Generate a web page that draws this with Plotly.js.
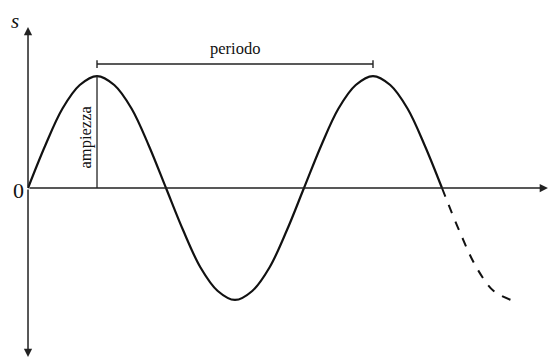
<!DOCTYPE html>
<html>
<head>
<meta charset="utf-8">
<script src="https://cdn.plot.ly/plotly-3.0.1.min.js"></script>
<style>
  html, body { margin: 0; padding: 0; background: #fff; }
  #plotArea { width: 553px; height: 361px; }
</style>
</head>
<body>
<div id="plotArea"></div>
<script>
// wave, one point every 1/16 of a period (period = 4)
var tSolid = [0, 0.25, 0.5, 0.75, 1, 1.25, 1.5, 1.75, 2, 2.25, 2.5, 2.75, 3, 3.25, 3.5, 3.75, 4,
              4.25, 4.5, 4.75, 5, 5.25, 5.5, 5.75, 6];
var sSolid = [0, 0.38, 0.71, 0.92, 1, 0.92, 0.71, 0.38, 0, -0.38, -0.71, -0.92, -1, -0.92, -0.71, -0.38, 0,
              0.38, 0.71, 0.92, 1, 0.92, 0.71, 0.38, 0];
var tDash = [6, 6.25, 6.5, 6.75, 7];
var sDash = [0, -0.38, -0.71, -0.92, -1];

// annotation points
var periodStart = 1, periodEnd = 5, periodLevel = 1.107;
var ampT = 1, ampTop = 1;

var serif = "Liberation Serif, DejaVu Serif, serif";

var traceSolid = {
  x: tSolid,
  y: sSolid,
  mode: "lines",
  line: {color: "#111", width: 2.2, shape: "spline", smoothing: 1},
  hoverinfo: "skip"
};
var traceDash = {
  x: tDash,
  y: sDash,
  mode: "lines",
  line: {color: "#111", width: 2, dash: "dash", shape: "spline", smoothing: 1},
  hoverinfo: "skip"
};

// axis arrows drawn as annotations from the origin
function arrow(x, y) {
  return {
    x: x, y: y, ax: 0, ay: 0, xref: "x", yref: "y", axref: "x", ayref: "y",
    text: "", showarrow: true, arrowhead: 2, arrowsize: 1.1, arrowwidth: 1.5,
    arrowcolor: "#222", standoff: 0, startstandoff: 0
  };
}
function label(x, y, txt, size, extra) {
  var a = {
    x: x, y: y, xref: "x", yref: "y", text: txt, showarrow: false,
    font: {family: serif, size: size, color: "#111"}
  };
  for (var k in extra) a[k] = extra[k];
  return a;
}

var layout = {
  width: 553,
  height: 361,
  margin: {l: 0, r: 0, t: 0, b: 0},
  paper_bgcolor: "#fff",
  plot_bgcolor: "#fff",
  showlegend: false,
  xaxis: {range: [-0.406, 7.609], visible: false, fixedrange: true},
  yaxis: {range: [-1.545, 1.679], visible: false, fixedrange: true},
  shapes: [
    {type: "line", x0: periodStart, x1: periodEnd, y0: periodLevel, y1: periodLevel,
     line: {color: "#222", width: 1.4}},
    {type: "line", x0: periodStart, x1: periodStart, y0: periodLevel - 0.035, y1: periodLevel + 0.035,
     line: {color: "#222", width: 1.4}},
    {type: "line", x0: periodEnd, x1: periodEnd, y0: periodLevel - 0.035, y1: periodLevel + 0.035,
     line: {color: "#222", width: 1.4}},
    {type: "line", x0: ampT, x1: ampT, y0: 0, y1: ampTop,
     line: {color: "#222", width: 1.3}}
  ],
  annotations: [
    arrow(0, 1.4375),
    arrow(0, -1.51),
    arrow(7.536, 0),
    label(3, 1.25, "periodo", 16.5),
    label(0.84, 0.46, "ampiezza", 16.5, {textangle: -90}),
    label(-0.14, -0.02, "0", 22),
    label(-0.19, 1.49, "<i>s</i>", 21),
    label(7.68, -0.2, "<i>t</i>", 21)
  ]
};

Plotly.newPlot("plotArea", [traceSolid, traceDash], layout, {displayModeBar: false, staticPlot: true});
</script>
</body>
</html>
